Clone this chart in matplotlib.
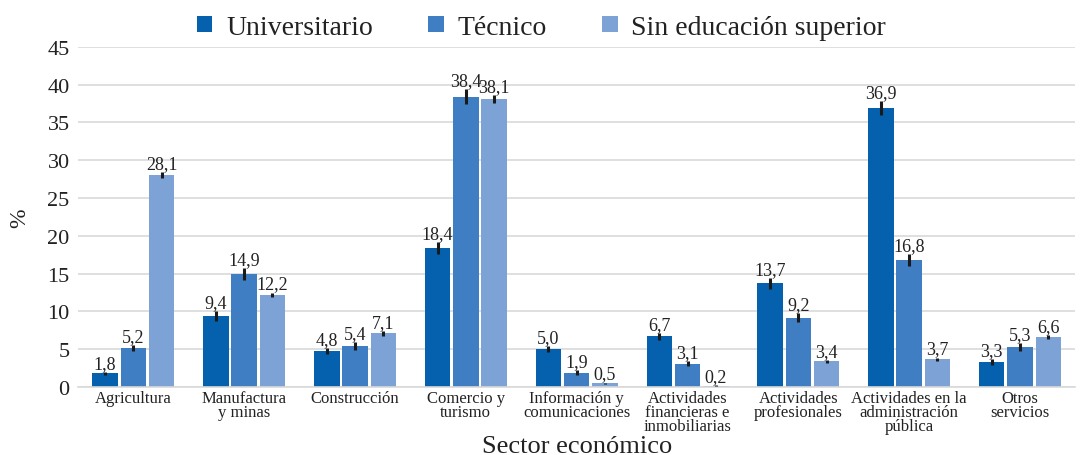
import numpy as np
import matplotlib
matplotlib.use("Agg")
import matplotlib.pyplot as plt

plt.rcParams['font.family'] = ['Liberation Serif', 'DejaVu Serif']

sectores = ["Agricultura", "Manufactura\ny minas", "Construcción", "Comercio y\nturismo",
            "Información y\ncomunicaciones", "Actividades\nfinancieras e\ninmobiliarias",
            "Actividades\nprofesionales", "Actividades en la\nadministración\npública",
            "Otros\nservicios"]
series = ["Universitario", "Técnico", "Sin educación superior"]

universitario = [1.8, 9.4, 4.8, 18.4, 5.0, 6.7, 13.7, 36.9, 3.3]
tecnico = [5.2, 14.9, 5.4, 38.4, 1.9, 3.1, 9.2, 16.8, 5.3]
sin_superior = [28.1, 12.2, 7.1, 38.1, 0.5, 0.2, 3.4, 3.7, 6.6]

err_univ = [0.2, 0.6, 0.4, 0.8, 0.4, 0.5, 0.7, 0.9, 0.4]
err_tec = [0.4, 0.8, 0.5, 1.0, 0.3, 0.3, 0.6, 0.8, 0.5]
err_sin = [0.4, 0.3, 0.3, 0.5, 0.1, 0.1, 0.2, 0.2, 0.3]

colors = ["#0560AE", "#3F7EC2", "#7DA3D6"]

fig = plt.figure(figsize=(10.83, 4.56), dpi=100)
ax = fig.add_axes([0.072, 0.149, 0.921, 0.746])

x = np.arange(len(sectores))
w = 0.23
offsets = [-0.255, 0, 0.255]
for vals, errs, off, c, name in zip([universitario, tecnico, sin_superior],
                                     [err_univ, err_tec, err_sin], offsets, colors, series):
    ax.bar(x + off, vals, width=w, color=c, label=name, zorder=2)
    ax.errorbar(x + off, vals, yerr=errs, fmt='none', ecolor='#1a1a1a',
                elinewidth=2.2, capsize=0, zorder=3)
    for xi, v, e in zip(x + off, vals, errs):
        ax.annotate(f"{v:.1f}".replace('.', ','), (xi, v + e), xytext=(0, 0),
                    textcoords='offset points', ha='center', va='bottom',
                    fontsize=13, color='#222222')

ax.set_ylim(0, 45)
ax.set_yticks(np.arange(0, 46, 5))
ax.set_xlim(-0.5, len(sectores) - 0.5)
ax.set_xticks(x)
ax.set_xticklabels(sectores, fontsize=12, linespacing=0.85, color='#222222')
ax.tick_params(axis='y', labelsize=16, length=0, labelcolor='#222222', pad=6)
ax.tick_params(axis='x', length=0, pad=2)
ax.grid(axis='y', color='#D9D9D9', linewidth=1.2, zorder=0)
for s in ['top', 'right', 'left']:
    ax.spines[s].set_visible(False)
ax.spines['bottom'].set_color('#D9D9D9')
ax.spines['bottom'].set_linewidth(1.2)

ax.set_ylabel("%", fontsize=17, color='#222222', labelpad=12)
fig.text(0.072 + 0.921 / 2, 3 / 456, "Sector económico", fontsize=19,
         ha='center', va='baseline', color='#222222')

fig.legend(loc='upper center', bbox_to_anchor=(0.5, 1.02), ncol=3, frameon=False,
           fontsize=20, handlelength=0.55, handleheight=0.55, handletextpad=0.5,
           columnspacing=2.0, labelcolor='#222222')

fig.savefig("out.png", dpi=100)
